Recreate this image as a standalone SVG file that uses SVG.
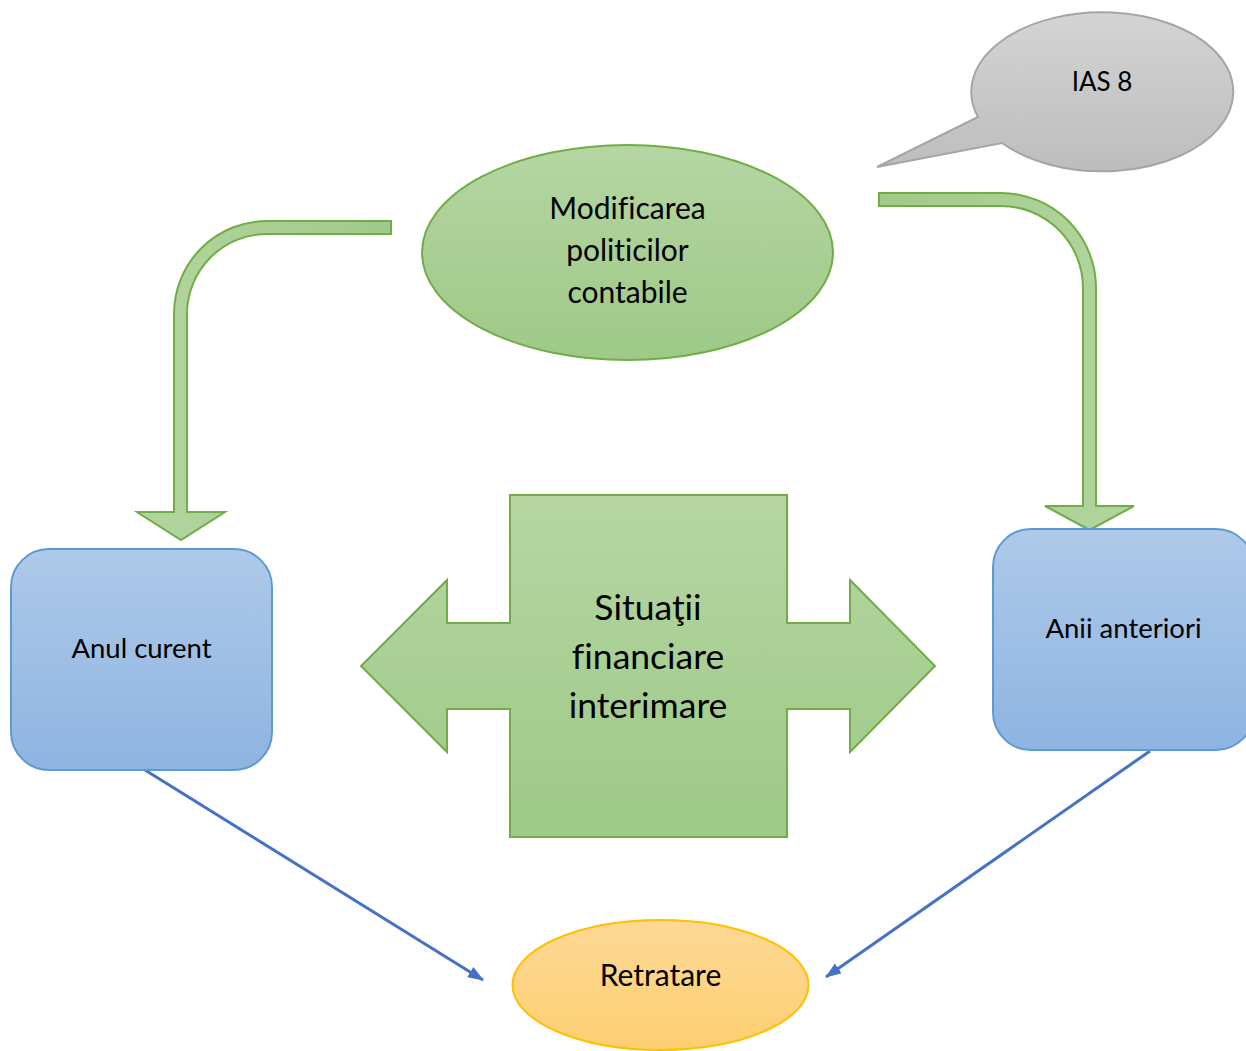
<svg xmlns="http://www.w3.org/2000/svg" width="1246" height="1051" viewBox="0 0 1246 1051">
  <style>
    text { font-family: Lato, "Open Sans", "Liberation Sans", sans-serif; fill: #000; text-anchor: middle; font-variant-ligatures: none; }
    .t26 { font-size: 26px; }
    .t27 { font-size: 27.5px; }
    .t30 { font-size: 30px; }
    .t35 { font-size: 35.5px; }
    .green { fill: url(#gGreen); stroke: #70ad47; stroke-width: 2; }
    .blue { fill: url(#gBlue); stroke: #5b9bd5; stroke-width: 2; }
    .link { stroke: #4472c4; stroke-width: 3; fill: none; marker-end: url(#head); }
  </style>
  <defs>
    <linearGradient id="gGreen" x1="0" y1="0" x2="0" y2="1">
      <stop offset="0" stop-color="#b5d6a3"/>
      <stop offset="1" stop-color="#9ec986"/>
    </linearGradient>
    <linearGradient id="gArrowL" x1="0" y1="0" x2="1" y2="0">
      <stop offset="0" stop-color="#b3d5a0"/>
      <stop offset="1" stop-color="#a0ca88"/>
    </linearGradient>
    <linearGradient id="gArrowR" x1="0" y1="0" x2="1" y2="0">
      <stop offset="0" stop-color="#a0ca88"/>
      <stop offset="1" stop-color="#b3d5a0"/>
    </linearGradient>
    <linearGradient id="gBlue" x1="0" y1="0" x2="0" y2="1">
      <stop offset="0" stop-color="#aec9e9"/>
      <stop offset="1" stop-color="#8eb4e2"/>
    </linearGradient>
    <linearGradient id="gGray" x1="0" y1="0" x2="0" y2="1">
      <stop offset="0" stop-color="#d4d4d4"/>
      <stop offset="1" stop-color="#bdbdbd"/>
    </linearGradient>
    <linearGradient id="gGold" x1="0" y1="0" x2="0" y2="1">
      <stop offset="0" stop-color="#fed995"/>
      <stop offset="1" stop-color="#fdcf72"/>
    </linearGradient>
    <marker id="head" viewBox="0 0 16 12" refX="15" refY="6" markerWidth="16" markerHeight="12" markerUnits="userSpaceOnUse" orient="auto">
      <path d="M0,0 L16,6 L0,12 Z" fill="#4472c4"/>
    </marker>
  </defs>

  <!-- connectors: bent block arrows and straight links -->
  <g id="connectors">
    <path d="M391,221 H267 A93,93 0 0 0 174,314 V512 H137 L181,540 L225,512 H187 V314 A80,80 0 0 1 267,234 H391 Z" fill="url(#gArrowL)" stroke="#70ad47" stroke-width="2"/>
    <path d="M879,193 H1001 A95,95 0 0 1 1096,288 V506 H1134 L1089.5,530 L1045,506 H1083 V288 A82,82 0 0 0 1001,206 H879 Z" fill="url(#gArrowR)" stroke="#70ad47" stroke-width="2"/>
    <line class="link" x1="145" y1="770" x2="483" y2="980"/>
    <line class="link" x1="1150" y1="751" x2="826" y2="977"/>
  </g>

  <g id="callout-ias8">
    <path d="M978,117 L877,167 L1002,143 A131,79.5 0 1 0 978,117 Z" fill="url(#gGray)" stroke="#a5a5a5" stroke-width="2"/>
    <text class="t26" x="1102" y="91">IAS 8</text>
  </g>

  <g id="node-modificarea">
    <ellipse class="green" cx="627.5" cy="252.5" rx="205.5" ry="107.5"/>
    <text class="t30" x="627.5" y="219">Modificarea</text>
    <text class="t30" x="627.5" y="261">politicilor</text>
    <text class="t30" x="627.5" y="303">contabile</text>
  </g>

  <g id="node-situatii">
    <path class="green" d="M510,495 H787 V623 H850 V580 L935,666 L850,752 V709 H787 V837 H510 V709 H447 V752 L361,666 L447,580 V623 H510 Z"/>
    <text class="t35" x="648" y="620">Situaţii</text>
    <text class="t35" x="648" y="669">financiare</text>
    <text class="t35" x="648" y="718">interimare</text>
  </g>

  <g id="node-anul-curent">
    <rect class="blue" x="11" y="549" width="261" height="221" rx="38" ry="38"/>
    <text class="t27" x="141.5" y="658">Anul curent</text>
  </g>

  <g id="node-anii-anteriori">
    <rect class="blue" x="993" y="529" width="261" height="221" rx="38" ry="38"/>
    <text class="t27" x="1123.5" y="638">Anii anteriori</text>
  </g>

  <g id="node-retratare">
    <ellipse cx="660.5" cy="985" rx="148" ry="65" fill="url(#gGold)" stroke="#ffc000" stroke-width="2"/>
    <text class="t30" x="660.5" y="986">Retratare</text>
  </g>
</svg>
